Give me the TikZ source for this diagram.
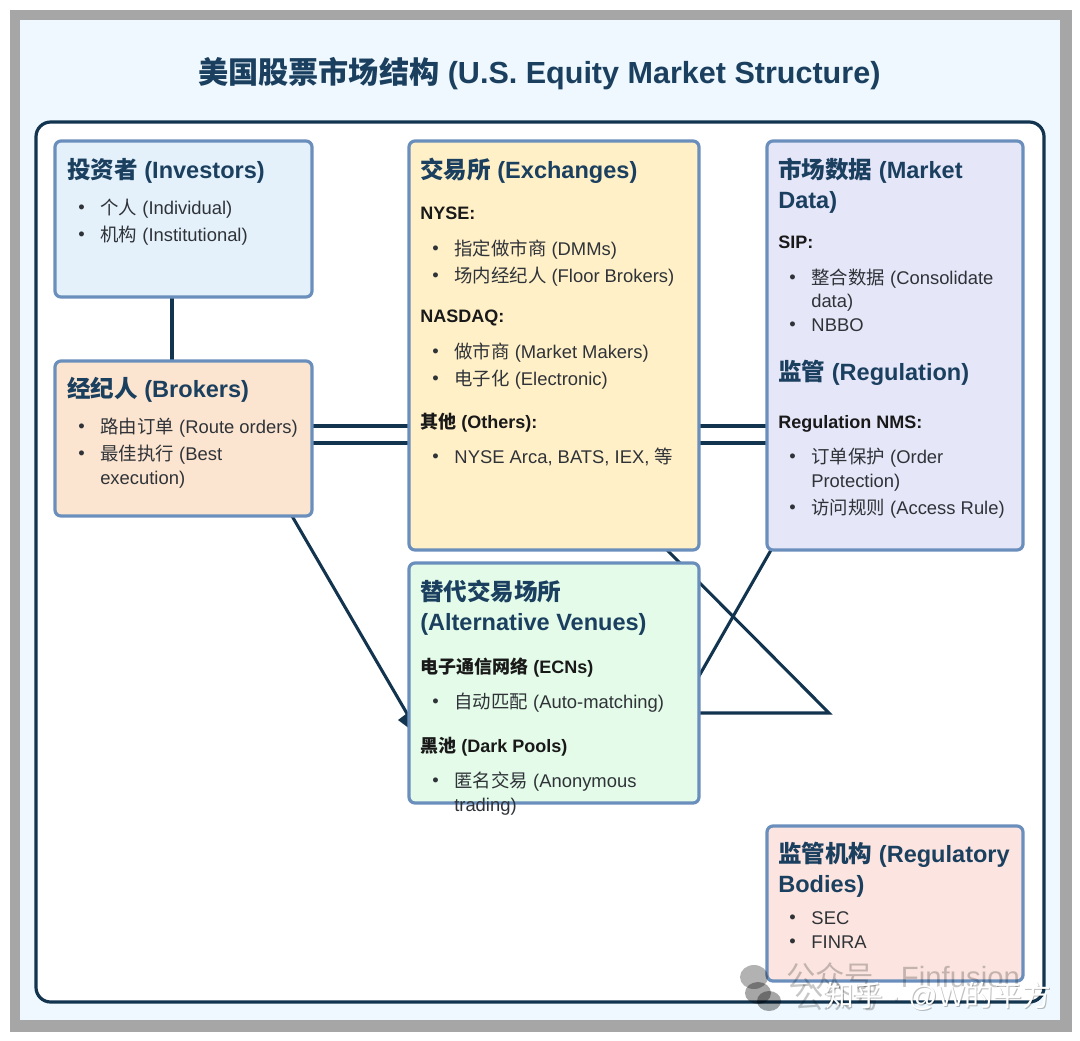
\documentclass[tikz,border=0pt]{standalone}
\usepackage{fontspec}
\setmainfont{Liberation Sans}
\newfontfamily\cjk{Noto Sans CJK SC}
\newcommand{\zh}[1]{{\cjk #1}}
\pgfdeclarelayer{conn}
\pgfdeclarelayer{back}
\pgfsetlayers{back,conn,main}
\definecolor{navy}{HTML}{12344F}
\definecolor{headc}{HTML}{1B3F5F}
\definecolor{bodyc}{HTML}{2F3338}
\definecolor{edgec}{HTML}{6B8FBC}
\definecolor{framec}{HTML}{A6A6A6}
\definecolor{paper}{HTML}{EEF8FE}
\definecolor{invc}{HTML}{E4F1FB}
\definecolor{brkc}{HTML}{FCE5D0}
\definecolor{excc}{HTML}{FFF0C8}
\definecolor{datc}{HTML}{E5E6F8}
\definecolor{altc}{HTML}{E3FBE8}
\definecolor{regc}{HTML}{FCE5E0}
\tikzset{
  x=0.75pt,y=-0.75pt,
  cardbox/.style={draw=edgec,line width=2.4pt,rounded corners=4.5pt,inner sep=0pt,outer sep=0pt,anchor=north west},
  link/.style={draw=navy,line width=2.3pt},
  hd/.style={anchor=base west,inner sep=0pt,text=headc,font=\fontsize{17.65}{21}\selectfont\bfseries},
  sub/.style={anchor=base west,inner sep=0pt,text=black!90,font=\fontsize{13.5}{16}\selectfont\bfseries},
  txt/.style={anchor=base west,inner sep=0pt,text=bodyc,font=\fontsize{13.8}{16}\selectfont},
  ttl/.style={anchor=base west,inner sep=0pt,text=headc,font=\fontsize{22.9}{27}\selectfont\bfseries},
  wm/.style={anchor=base west,inner sep=0pt,text=black,text opacity=.22,font=\fontsize{22}{25}\selectfont},
  wmw/.style={anchor=base west,inner sep=0pt,text=white,font=\fontsize{21.6}{25}\selectfont},
}
\newcommand{\bul}{\hspace{-2.2pt}\makebox[16.6pt][l]{\raisebox{0.2pt}{•}}}
\newcommand{\zc}[1]{{\cjk #1}}
\begin{document}
\begin{tikzpicture}
\useasboundingbox (0,0) rectangle (1080,1040);
\begin{pgfonlayer}{back}
\fill[white] (0,0) rectangle (1080,1040);
\fill[framec] (10,10) rectangle (1072,1032);
\fill[paper] (20,20) rectangle (1060,1020);
\draw[draw=navy,fill=white,line width=2.4pt,rounded corners=11pt] (36,122) rectangle (1044,1002);
\end{pgfonlayer}

\node[ttl] (title) at (198,83) {{\cjk\fontsize{22.6}{27}\selectfont 美国股票市场结构} (U.S. Equity Market Structure)};

% boxes
\node[cardbox,fill=invc,minimum width=192.75pt,minimum height=117pt] (inv) at (55,141) {};
\node[cardbox,fill=brkc,minimum width=192.75pt,minimum height=116.25pt] (brk) at (55,361) {};
\node[cardbox,fill=excc,minimum width=217.5pt,minimum height=306.75pt] (exc) at (409,141) {};
\node[cardbox,fill=datc,minimum width=192pt,minimum height=306.75pt] (dat) at (767,141) {};
\node[cardbox,fill=altc,minimum width=217.5pt,minimum height=180pt] (alt) at (409,563) {};
\node[cardbox,fill=regc,minimum width=192pt,minimum height=116.25pt] (reg) at (767,826) {};

% connector guides
\coordinate (vA) at (172,0);
\coordinate (hA) at (0,426);
\coordinate (hB) at (0,443);
\coordinate (hC) at (0,713);
\coordinate (elbow) at (829,713);
\begin{pgfonlayer}{conn}
\draw[link] (inv.south -| vA) -- (brk.north -| vA);
\draw[link] (brk.east |- hA) -- (exc.west |- hA);
\draw[link] (brk.east |- hB) -- (exc.west |- hB);
\draw[link] (exc.east |- hA) -- (dat.west |- hA);
\draw[link] (exc.east |- hB) -- (dat.west |- hB);
\coordinate (brkOut) at (292,516);
\coordinate (altIn) at (409,717);
\draw[link] (brkOut) -- (altIn);
\fill[navy] (398,720) -- (410,711) -- (410,729) -- cycle;
\coordinate (excOut) at (667,550);
\draw[link,line join=miter] (excOut) -- (elbow) -- (alt.east |- hC);
\coordinate (datOut) at (771,550);
\coordinate (altOut) at (699,676);
\draw[link] (datOut) -- (altOut);
\end{pgfonlayer}

% investors
\node[hd] (t1) at (67,178) {\zh{投资者} (Investors)};
\node[txt] (t2) at (81,214) {\bul\zc{个人} (Individual)};
\node[txt] (t3) at (81,241) {\bul\zc{机构} (Institutional)};
% brokers
\node[hd] (t4) at (67,397) {\zh{经纪人} (Brokers)};
\node[txt] (t5) at (81,433) {\bul\zc{路由订单} (Route orders)};
\node[txt] (t6) at (81,460) {\bul\zc{最佳执行} (Best};
\node[txt] (t7) at (100,484) {execution)};
% exchanges
\node[hd] (t8) at (420,178) {\zh{交易所} (Exchanges)};
\node[sub] (t9) at (420,219) {NYSE:};
\node[txt] (t10) at (435,255) {\bul\zc{指定做市商} (DMMs)};
\node[txt] (t11) at (435,282) {\bul\zc{场内经纪人} (Floor Brokers)};
\node[sub] (t12) at (420,322) {NASDAQ:};
\node[txt] (t13) at (435,358) {\bul\zc{做市商} (Market Makers)};
\node[txt] (t14) at (435,385) {\bul\zc{电子化} (Electronic)};
\node[sub] (t15) at (420,428) {\zh{其他} (Others):};
\node[txt] (t16) at (435,463) {\bul NYSE Arca, BATS, IEX, \zc{等}};
% market data
\node[hd] (t17) at (778,178) {\zh{市场数据} (Market};
\node[hd] (t18) at (778,208) {Data)};
\node[sub] (t19) at (778,248) {SIP:};
\node[txt] (t20) at (792,284) {\bul\zc{整合数据} (Consolidate};
\node[txt] (t21) at (811,307) {data)};
\node[txt] (t22) at (792,331) {\bul NBBO};
\node[hd] (t23) at (778,380) {\zh{监管} (Regulation)};
\node[sub] (t24) at (778,428) {Regulation NMS:};
\node[txt] (t25) at (792,463) {\bul\zc{订单保护} (Order};
\node[txt] (t26) at (811,487) {Protection)};
\node[txt] (t27) at (792,514) {\bul\zc{访问规则} (Access Rule)};
% alternative venues
\node[hd] (t28) at (420,600) {\zh{替代交易场所}};
\node[hd] (t29) at (420,630) {(Alternative Venues)};
\node[sub] (t30) at (420,673) {\zh{电子通信网络} (ECNs)};
\node[txt] (t31) at (435,708) {\bul\zc{自动匹配} (Auto-matching)};
\node[sub] (t32) at (420,752) {\zh{黑池} (Dark Pools)};
\node[txt] (t33) at (435,787) {\bul\zc{匿名交易} (Anonymous};
\node[txt] (t34) at (454,811) {trading)};
% regulators
\node[hd] (t35) at (778,862) {\zh{监管机构} (Regulatory};
\node[hd] (t36) at (778,892) {Bodies)};
\node[txt] (t37) at (792,924) {\bul SEC};
\node[txt] (t38) at (792,948) {\bul FINRA};

% watermark
\fill[black,opacity=.3] (754,977) ellipse (14 and 12);
\fill[black,opacity=.35] (758,993) ellipse (13 and 11);
\fill[black,opacity=.35] (769,1001) ellipse (12 and 10);
\node[wm] (w1) at (786,987) {\zh{公众号}\hspace{20pt}Finfusion};
\node[wm] (w2) at (794,1008) {\zh{公众号}};
\node[wmw,text=black,text opacity=.25] (w3s) at (826,1007) {\zh{知乎} · @W\zh{的平方}};
\node[wmw] (w3) at (825,1006) {\zh{知乎} · @W\zh{的平方}};
\end{tikzpicture}
\end{document}
